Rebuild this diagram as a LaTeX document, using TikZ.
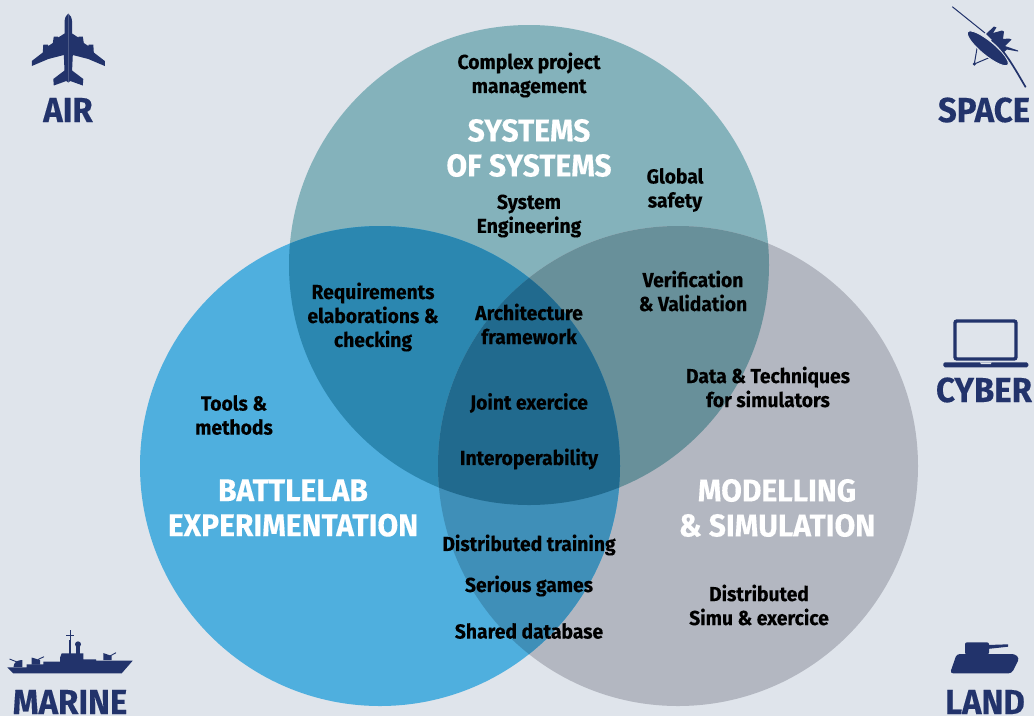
\documentclass[tikz,border=0pt]{standalone}
\usepackage{xcolor}
\usepackage{fontspec}
\setmainfont{Fira Sans}[BoldFeatures={FakeBold=0.25,FakeStretch=0.95}]
\usetikzlibrary{positioning}
\definecolor{bgcol}{HTML}{DFE4EB}
\definecolor{navy}{HTML}{22336B}
\definecolor{topcol}{HTML}{84B2BB}
\definecolor{leftcol}{HTML}{4FAFDE}
\definecolor{rightcol}{HTML}{B3B7C1}
\definecolor{tlcol}{HTML}{2B87B0}
\definecolor{trcol}{HTML}{68909A}
\definecolor{lrcol}{HTML}{3F8FB8}
\definecolor{midcol}{HTML}{216A8E}
\tikzset{
    label text/.style={font=\bfseries\fontsize{20.3}{24}\selectfont, align=center, text=black, inner sep=0pt},
    title text/.style={font=\bfseries\fontsize{31.6}{35}\selectfont, align=center, text=white, inner sep=0pt},
    domain text/.style={font=\bfseries\fontsize{34.7}{35}\selectfont, text=navy, inner sep=0pt},
    icon/.style={fill=navy, draw=none},
}
\newcommand{\topcircle}{(529,265) circle [radius=240]}
\newcommand{\leftcircle}{(380,466) circle [radius=240]}
\newcommand{\rightcircle}{(678,466) circle [radius=240]}
\begin{document}
\begin{tikzpicture}[x=1pt, y=-1pt]
        \useasboundingbox (0,0) rectangle (1034,716);
        \fill[bgcol] (0,0) rectangle (1034,716);

        % Circles
        \fill[topcol] \topcircle;
        \fill[rightcol] \rightcircle;
        \fill[leftcol] \leftcircle;
        \begin{scope}
            \clip \topcircle;
            \fill[tlcol] \leftcircle;
            \fill[trcol] \rightcircle;
        \end{scope}
        \begin{scope}
            \clip \leftcircle;
            \fill[lrcol] \rightcircle;
            \clip \rightcircle;
            \fill[midcol] \topcircle;
        \end{scope}

        % Titles
        \node[title text] (systems) at (529,148) {SYSTEMS\\OF SYSTEMS};
        \node[title text] (battlelab) at (293,508) {BATTLELAB\\EXPERIMENTATION};
        \node[title text] (modelling) at (777,508) {MODELLING\\\& SIMULATION};

        % Labels
        \node[label text] (project) at (529,75) {Complex project\\management};
        \node[label text] (safety) at (675,190) {Global\\safety};
        \node[label text] (engineering) at (529,216) {System\\Engineering};
        \node[label text] (verification) at (693,291) {Verification\\\& Validation};
        \node[label text] (requirements) at (373,317) {Requirements\\elaborations \&\\checking};
        \node[label text] (architecture) at (529,324) {Architecture\\framework};
        \node[label text] (tools) at (234,415) {Tools \&\\methods};
        \node[label text] (joint) at (529,403) {Joint exercice};
        \node[label text] (interop) at (529,459) {Interoperability};
        \node[label text] (techniques) at (768,387) {Data \& Techniques\\for simulators};
        \node[label text] (training) at (529,545) {Distributed training};
        \node[label text] (games) at (529,586) {Serious games};
        \node[label text] (database) at (529,631) {Shared database};
        \node[label text] (simu) at (759,605) {Distributed\\Simu \& exercice};

        % Domains
        \node[domain text] (air) at (68,110) {AIR};
        \node[domain text] (space) at (984,110) {SPACE};
        \node[domain text] (cyber) at (984,390) {CYBER};
        \node[domain text] (marine) at (70,702) {MARINE};
        \node[domain text] (land) at (985,702) {LAND};

        % Plane
        \foreach \s in {1,-1} {
            \fill[icon, xshift=68.3pt, xscale=\s]
                (0,13.5) .. controls (2.5,15) and (3.5,18) .. (3.8,22) -- (3.8,33.5) -- (10,37.5) -- (10.5,36.5)
                -- (14.5,36.5) -- (15.5,43) -- (20,46) -- (20.5,44.5) -- (25,44.5) -- (25.5,52.5)
                -- (36.5,61) -- (36.5,66) -- (20,59) -- (4.5,55) -- (3.8,70.5) -- (15,79)
                -- (14.5,85.5) -- (2,81) -- (0,82.5) -- cycle;
        }

        % Satellite
        \draw[navy, line width=1pt] (952.3,6.7) -- (985,33);
        \fill[icon] (986,34) -- (994,26.5) -- (996.5,27.5) -- (993,33) -- (1002,30.5) -- (1004,31.5)
            -- (1003,39) -- (1009,38.5) -- (1011.5,39.5) -- (1005,46) -- (1018,50.5) -- (1018,51.5) -- (1007,49.5) -- (1004,52) -- cycle;
        \draw[navy, line width=1pt] (977.3,46.7) -- (974.3,64) -- (990,57.3);
        \fill[icon] (974.3,64) circle [radius=1.8];
        \draw[bgcol, fill=navy, line width=1pt] (987.8,48.3) ellipse [x radius=26, y radius=7, rotate=-39.5];
        \draw[navy, line width=1.7pt] (991.7,40) .. controls (1003,49) and (1010,60) .. (1025.7,87.3);

        % Laptop
        \draw[navy, line width=3.4pt, rounded corners=2pt] (955,321) rectangle (1016,359);
        \fill[icon, rounded corners=1.6pt] (943.3,362.3) rectangle (1028.3,367.3);
        \fill[bgcol] (980,362.3) -- (991.7,362.3) -- (990.7,364.2) -- (981,364.2) -- cycle;

        % Ship
        \fill[icon] (7.3,667.3) -- (26.7,667.3) -- (26.7,664.3) -- (43.3,664.3) -- (43.3,661.7) -- (60,661.7)
            -- (60,657.7) -- (61.7,653.3) -- (83.3,653.3) -- (83.3,659.3) -- (96,659.3) -- (96,660.7)
            -- (132.7,660.7) -- (121.7,673.3) -- (13.3,673.3) -- cycle;
        \draw[navy, line width=1pt] (70,630) -- (70,654);
        \draw[navy, line width=0.8pt] (66,635.7) -- (74,635.7);
        \draw[navy, line width=2pt] (70,640) -- (70,654);
        \fill[icon] (78,644.3) circle [radius=3];
        \fill[icon] (76,646) rectangle (80,654);
        \fill[icon] (13.5,667) .. controls (13.5,662) and (18,660) .. (22.3,660) -- (22.3,667) -- cycle;
        \draw[navy, line width=0.9pt] (9.5,659) -- (17,662);
        \fill[icon] (31.7,657.5) -- (40,660) -- (40,664.5) -- (31.7,664.5) -- cycle;
        \draw[navy, line width=0.9pt] (38,659.5) -- (44,656.7);
        \fill[icon] (103.3,653) -- (111.7,656) -- (111.7,660) -- (103.3,660) -- cycle;
        \draw[navy, line width=0.9pt] (110,656) -- (116,652.7);

        % Tank
        \fill[icon, rounded corners=3pt] (950,673.3) -- (956.7,654) -- (1015,654) -- (1019.3,658.3) -- (1011.7,673.3) -- cycle;
        \fill[icon, rounded corners=2pt] (965,642.3) rectangle (989,654.5);
        \fill[icon] (988,645) -- (1008,644.3) -- (1008,646.7) -- (988,648.9) -- cycle;
        \end{tikzpicture}
\end{document}
